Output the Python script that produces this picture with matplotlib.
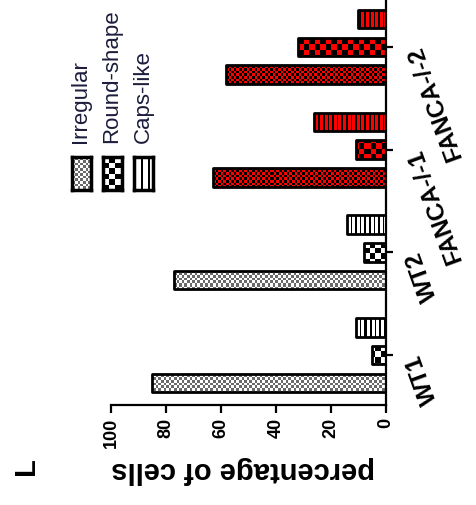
import numpy as np
import matplotlib
matplotlib.use('Agg')
import matplotlib.pyplot as plt
from matplotlib.colors import to_rgb

# data
groups = ['WT1', 'WT2', 'FANCA-/-1', 'FANCA-/-2']
irregular = [85, 77, 63, 58]
round_shape = [5, 8, 11, 32]
caps_like = [11, 14, 26, 10]
series_names = ['Irregular', 'Round-shape', 'Caps-like']

plt.rcParams['font.family'] = ['Liberation Sans', 'DejaVu Sans']

W, H = 4.77, 5.05
fig = plt.figure(figsize=(W, H), dpi=100)
ax_pos = [111 / 477, 100 / 505, 275 / 477, 405 / 505]
ax = fig.add_axes(ax_pos)

px_w = int(round(ax_pos[2] * 477))
px_h = int(round(ax_pos[3] * 505))


def checker(h, w, cell, c1, c2):
    yy, xx = np.mgrid[0:h, 0:w]
    m = ((yy // cell + xx // cell) % 2).astype(bool)
    return np.where(m[..., None], np.array(to_rgb(c1)), np.array(to_rgb(c2)))


def stripes(h, w, period, lw, base):
    yy, xx = np.mgrid[0:h, 0:w]
    m = (xx % period) < lw
    return np.where(m[..., None], np.array(to_rgb('black')), np.array(to_rgb(base)))


def pattern(kind, red, h, w, vertical=False):
    if kind == 0:
        return checker(h, w, 2.6, 'black' if red else '#6a6a6a', 'red' if red else 'white')
    if kind == 1:
        return checker(h, w, 5.5, 'black', 'red' if red else 'white')
    if vertical:
        return stripes(h, w, 7, 2, 'red' if red else 'white')
    return stripes(h, w, 4.6, 1.6, 'red' if red else 'white')


xlim = (100, 0)
ylim = (-0.485, 3.456)
pos = np.arange(len(groups))
offsets = [-0.27, 0, 0.27]
values = [irregular, round_shape, caps_like]

for k, (vals, off) in enumerate(zip(values, offsets)):
    bars = ax.barh(pos + off, vals, height=0.18, facecolor='none',
                   edgecolor='black', linewidth=2.0, zorder=3)
    for i, b in enumerate(bars):
        b.set_joinstyle('round')
        img = pattern(k, groups[i].startswith('FANCA'), px_h, px_w)
        im = ax.imshow(img, extent=(xlim[0], xlim[1], ylim[0], ylim[1]),
                       aspect='auto', interpolation='nearest', zorder=2)
        im.set_clip_path(b)

ax.set_xlim(*xlim)
ax.set_ylim(*ylim)

for s in ['left', 'top']:
    ax.spines[s].set_visible(False)
for s in ['right', 'bottom']:
    ax.spines[s].set_linewidth(1.6)

ax.set_xticks([0, 20, 40, 60, 80, 100])
ax.tick_params(axis='x', direction='out', length=6, width=1.6, pad=3,
               labelsize=13, labelrotation=90)
for t in ax.get_xticklabels():
    t.set_fontweight('bold')

ax.yaxis.tick_right()
ax.set_yticks(pos)
ax.set_yticklabels(groups, fontsize=17.5, fontweight='bold', rotation=110,
                   rotation_mode='anchor', ha='right', va='center')
ax.tick_params(axis='y', direction='out', length=5, width=1.6, pad=15)

fig.text(243 / 477, 1 - 470 / 505, 'percentage of cells', rotation=180,
         ha='center', va='center', fontsize=21, fontweight='bold')
fig.text(26 / 477, 1 - 466 / 505, 'L', rotation=90, ha='center', va='center',
         fontsize=21, fontweight='bold')

# legend
leg_x = [72, 103, 134]
for k, name in enumerate(series_names):
    lax = fig.add_axes([leg_x[k] / 477, 1 - 190 / 505, 19 / 477, 33 / 505])
    lax.imshow(pattern(k, False, 33, 19, vertical=True), aspect='auto',
               interpolation='nearest')
    lax.set_xticks([])
    lax.set_yticks([])
    for s in lax.spines.values():
        s.set_linewidth(2.5)
    fig.text((leg_x[k] + 9) / 477, 1 - 143 / 505, name, rotation=90,
             ha='center', va='bottom', fontsize=16, color='#1c1c3c')

fig.savefig('out.png', dpi=100)
